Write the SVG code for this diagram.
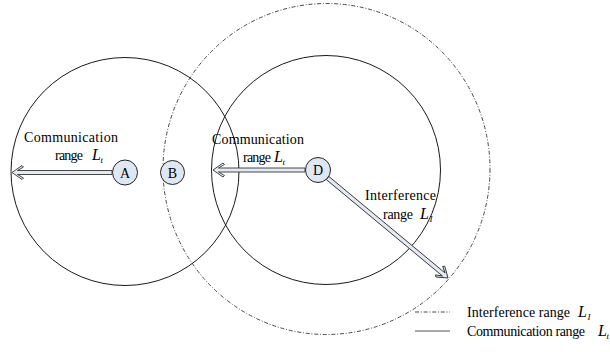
<svg xmlns="http://www.w3.org/2000/svg" width="610" height="352" viewBox="0 0 610 352">
  <style>
    .bg { fill: #ffffff; }
    .comm { fill: none; stroke: #1a1a1a; stroke-width: 1; }
    .intf { fill: none; stroke: #333333; stroke-width: 0.9; stroke-dasharray: 4 1.8 1 1.8; }
    .node { fill: #dfe7f2; stroke: #222222; stroke-width: 1; }
    .arrow { fill: #e4eaf3; stroke: #333333; stroke-width: 0.9; stroke-linejoin: miter; }
    text { font-family: "Liberation Serif", "Times New Roman", serif; fill: #000000; }
    .lbl { font-size: 14px; }
    .nl { font-size: 14px; text-anchor: middle; }
    .L { font-size: 16px; font-style: italic; }
    .sub { font-size: 9px; font-style: italic; }
    .legline { stroke: #555555; stroke-width: 1.2; }
  </style>
  <rect class="bg" x="0" y="0" width="610" height="352"/>

  <g id="range-A">
    <circle class="comm" cx="125" cy="171.5" r="114"/>
  </g>
  <g id="range-D">
    <circle class="comm" cx="326" cy="170" r="114.5"/>
  </g>
  <g id="interference-D">
    <ellipse class="intf" cx="326.5" cy="169" rx="163.5" ry="165.5"/>
  </g>

  <g id="connectors">
    <path class="arrow" transform="translate(12,172.5) rotate(180)" d="M0,0 L-10,-7 L-11.5,-5.5 L-5.5,-2 L-100,-2 L-100,2 L-5.5,2 L-11.5,5.5 L-10,7 Z"/>
    <path class="arrow" transform="translate(213,170) rotate(180)" d="M0,0 L-10,-7 L-11.5,-5.5 L-5.5,-2 L-92,-2 L-92,2 L-5.5,2 L-11.5,5.5 L-10,7 Z"/>
    <path class="arrow" transform="translate(448,278) rotate(39.7)" d="M0,0 L-10,-7 L-11.5,-5.5 L-5.5,-2 L-156.5,-2 L-156.5,2 L-5.5,2 L-11.5,5.5 L-10,7 Z"/>
  </g>

  <g id="node-A">
    <circle class="node" cx="125" cy="172.5" r="12.5"/>
    <text class="nl" x="125" y="177.5">A</text>
  </g>
  <g id="node-B">
    <circle class="node" cx="172.5" cy="172.5" r="12"/>
    <text class="nl" x="172.5" y="177.5">B</text>
  </g>
  <g id="node-D">
    <circle class="node" cx="318" cy="170" r="12.5"/>
    <text class="nl" x="318" y="175">D</text>
  </g>

  <g id="label-A">
    <text class="lbl" x="24" y="142" textLength="94" lengthAdjust="spacing">Communication</text>
    <text class="lbl" x="55" y="160" textLength="28" lengthAdjust="spacing">range</text>
    <text class="L" x="92" y="160">L</text>
    <text class="sub" x="100.5" y="163">t</text>
  </g>
  <g id="label-D-comm">
    <text class="lbl" x="212" y="144" textLength="92" lengthAdjust="spacing">Communication</text>
    <text class="lbl" x="243" y="162" textLength="28" lengthAdjust="spacing">range</text>
    <text class="L" x="274" y="162">L</text>
    <text class="sub" x="282.5" y="165">t</text>
  </g>
  <g id="label-D-intf">
    <text class="lbl" x="365" y="200" textLength="71" lengthAdjust="spacing">Interference</text>
    <text class="lbl" x="383" y="219" textLength="30" lengthAdjust="spacing">range</text>
    <text class="L" x="420" y="219">L</text>
    <text class="sub" x="429.5" y="222">I</text>
  </g>

  <g id="legend">
    <line class="intf" x1="415" y1="312" x2="450" y2="312"/>
    <text class="lbl" x="467" y="317" textLength="103" lengthAdjust="spacing">Interference range</text>
    <text class="L" x="578" y="317">L</text>
    <text class="sub" x="587.5" y="320">I</text>
    <line class="legline" x1="415" y1="331" x2="450" y2="331"/>
    <text class="lbl" x="467" y="336" textLength="118" lengthAdjust="spacing">Communication range</text>
    <text class="L" x="598" y="336">L</text>
    <text class="sub" x="606.5" y="339">t</text>
  </g>
</svg>
